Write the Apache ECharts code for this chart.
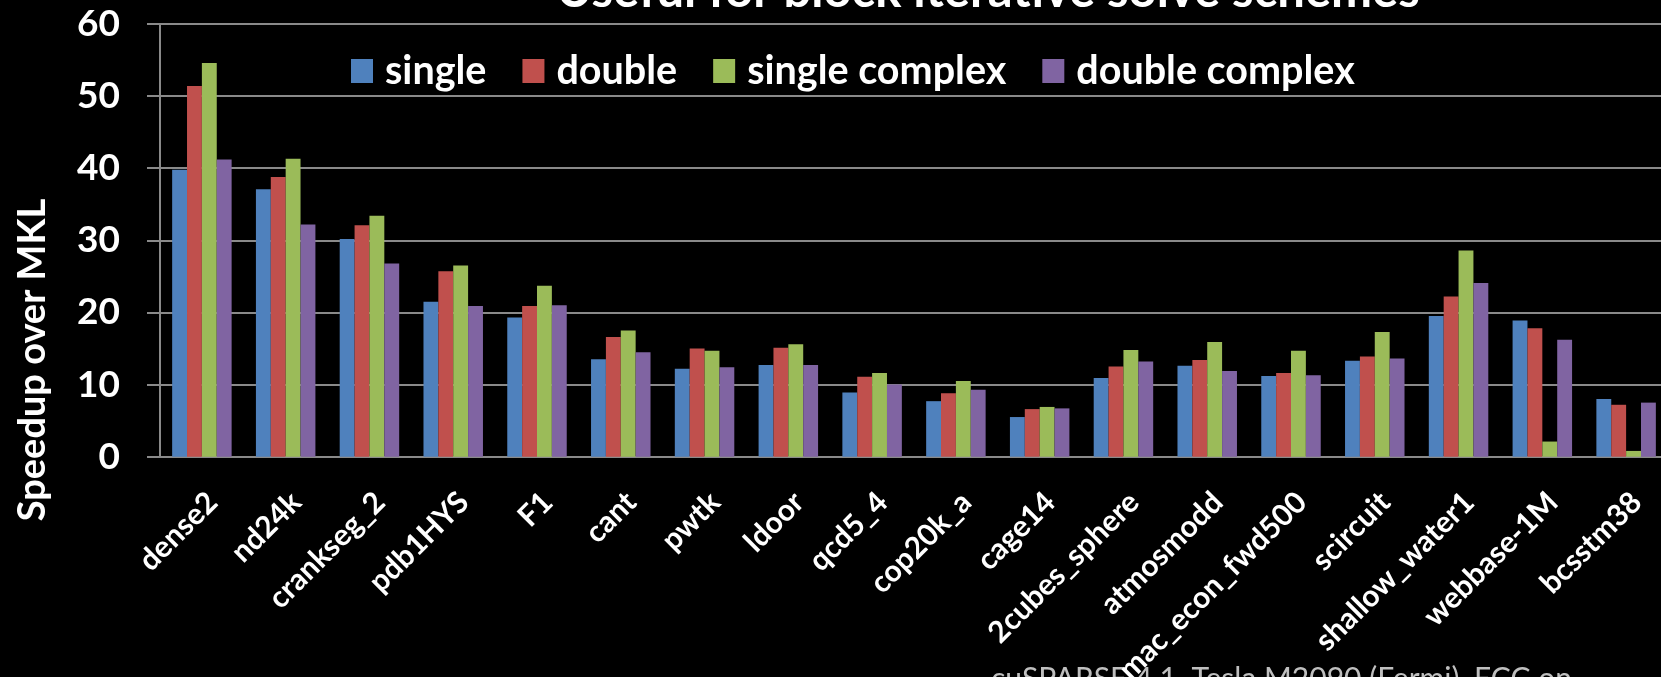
<!DOCTYPE html>
<html>
<head>
<meta charset="utf-8">
<script src="https://cdn.jsdelivr.net/npm/echarts@6/dist/echarts.min.js"></script>
<style>
  html, body { margin: 0; padding: 0; background: #000; }
  #chart { width: 1661px; height: 677px; }
</style>
</head>
<body>
<div id="chart"></div>
<script>
// Matrices (x axis)
const matrices = ['dense2', 'nd24k', 'crankseg_2', 'pdb1HYS', 'F1', 'cant', 'pwtk', 'ldoor',
  'qcd5_4', 'cop20k_a', 'cage14', '2cubes_sphere', 'atmosmodd', 'mac_econ_fwd500',
  'scircuit', 'shallow_water1', 'webbase-1M', 'bcsstm38'];

// Speedup over MKL per precision
const single        = [39.8, 37.1, 30.2, 21.5, 19.3, 13.5, 12.2, 12.7, 8.9, 7.7, 5.5, 10.9, 12.6, 11.2, 13.3, 19.5, 18.9, 8.0];
const double        = [51.4, 38.8, 32.1, 25.7, 20.9, 16.6, 15.0, 15.1, 11.1, 8.8, 6.6, 12.5, 13.4, 11.6, 13.9, 22.2, 17.8, 7.2];
const singleComplex = [54.6, 41.3, 33.4, 26.5, 23.7, 17.5, 14.7, 15.6, 11.6, 10.5, 6.9, 14.8, 15.9, 14.7, 17.3, 28.6, 2.1, 0.8];
const doubleComplex = [41.2, 32.2, 26.8, 20.9, 21.0, 14.5, 12.4, 12.7, 10.0, 9.3, 6.7, 13.2, 11.9, 11.3, 13.6, 24.1, 16.2, 7.5];

// Y axis ticks
const yMin = 0, yMax = 60, yStep = 10;

const seriesNames = ['single', 'double', 'single complex', 'double complex'];
const seriesData = [single, double, singleComplex, doubleComplex];
const colors = ['#4F81BD', '#C0504D', '#9BBB59', '#8064A2'];

const FONT = 'Lato, "Open Sans", sans-serif';
const GRID_GRAY = '#8a8a8a';

const chart = echarts.init(document.getElementById('chart'));
chart.setOption({
  backgroundColor: '#000',
  animation: false,
  title: {
    text: 'Useful for block iterative solve schemes',
    left: 983,
    textAlign: 'center',
    top: -38,
    textStyle: { color: '#fff', fontFamily: FONT, fontWeight: 'bold', fontSize: 49 }
  },
  legend: {
    data: seriesNames,
    left: 346,
    top: 46,
    icon: 'rect',
    itemWidth: 22,
    itemHeight: 24,
    itemGap: 36,
    textStyle: { color: '#fff', fontFamily: FONT, fontWeight: 'bold', fontSize: 39.5, padding: [0, 0, 0, 7] }
  },
  grid: { left: 160, top: 24, width: 1508, height: 432.7, outerBoundsMode: 'none', containLabel: false },
  xAxis: {
    type: 'category',
    data: matrices,
    axisLine: { show: true, lineStyle: { color: GRID_GRAY, width: 2 } },
    axisTick: { show: false },
    axisLabel: {
      interval: 0,
      rotate: 45,
      margin: 30,
      verticalAlign: 'top',
      color: '#fff',
      fontFamily: FONT,
      fontWeight: 'bold',
      fontSize: 30
    }
  },
  yAxis: {
    type: 'value',
    min: yMin,
    max: yMax,
    interval: yStep,
    axisLine: { show: true, lineStyle: { color: GRID_GRAY, width: 2 } },
    axisTick: { show: true, length: 13, lineStyle: { color: GRID_GRAY, width: 2 } },
    splitLine: { show: true, lineStyle: { color: GRID_GRAY, width: 2 } },
    axisLabel: {
      margin: 40,
      color: '#fff',
      fontFamily: FONT,
      fontWeight: 'bold',
      fontSize: 37
    }
  },
  graphic: [
    {
      type: 'text',
      x: 33,
      y: 360,
      rotation: Math.PI / 2,
      style: {
        text: 'Speedup over MKL',
        fill: '#fff',
        font: 'bold 38px ' + FONT,
        textAlign: 'center',
        textVerticalAlign: 'middle'
      }
    },
    {
      type: 'text',
      x: 991,
      y: 664,
      style: {
        text: 'cuSPARSE 4.1, Tesla M2090 (Fermi), ECC on',
        fill: '#bfbfbf',
        font: '30px ' + FONT,
        textAlign: 'left',
        textVerticalAlign: 'top'
      }
    }
  ],
  series: seriesNames.map((name, i) => ({
    name: name,
    type: 'bar',
    data: seriesData[i],
    barGap: '0%',
    barCategoryGap: '29%',
    itemStyle: { color: colors[i] }
  }))
});
</script>
</body>
</html>
